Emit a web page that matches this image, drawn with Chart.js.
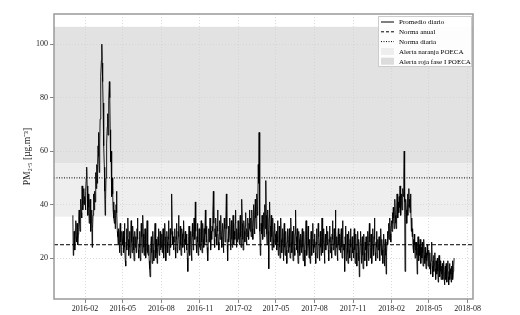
<!DOCTYPE html>
<html>
<head>
<meta charset="utf-8">
<script src="https://cdn.jsdelivr.net/npm/chart.js@4.4.1/dist/chart.umd.min.js"></script>
<style>
  html, body { margin: 0; padding: 0; background: #ffffff; }
</style>
</head>
<body>
<canvas id="pmChart" width="520" height="315"></canvas>
<script>
// Promedio diario PM2.5, un valor por día
const start2016 = '2016-01-03';
const pm2016 = [
  36,21,24,30,27,23,31,34,28,26,33,30,25,29,35,38,33,30,36,42,37,35,47,44,38,41,46,40,43, // ene
  42,38,45,50,54,47,40,36,44,39,33,37,42,35,30,34,38,24,31,36,40,44,38,45,41,48,52,46,55, // feb
  48,55,62,67,58,52,63,72,80,88,94,100,93,86,78,70,62,54,45,36,42,50,56,63,69,74,66,71,79,86,80, // mar
  68,56,60,48,43,50,44,38,41,35,33,38,31,36,40,45,37,30,28,25,31,27,22,29,33,26,21,24,30,27, // abr
  25,30,22,28,33,24,19,17,26,31,23,28,35,27,21,25,30,24,20,29,34,26,22,27,32,28,23,19,26,30,24, // may
  28,22,26,31,35,27,23,20,25,30,24,19,27,33,28,22,26,36,29,24,21,27,31,25,20,23,29,34,26,22, // jun
  21,25,19,16,13,20,24,28,22,18,26,30,23,19,25,29,33,24,20,27,22,18,24,28,31,25,21,26,30,23,27, // jul
  24,29,22,26,31,25,20,27,33,28,23,19,25,30,26,22,28,34,27,21,26,31,24,29,35,44,30,25,28,23,27, // ago
  26,31,24,20,28,33,27,22,25,30,36,28,23,27,32,25,21,26,31,29,24,28,34,27,22,26,30,25,29,23, // sep
  27,20,15,22,28,32,25,21,27,30,24,19,26,33,28,23,29,35,31,27,41,30,25,22,28,33,26,21,27,31,24, // oct
  28,23,30,34,26,22,29,33,27,24,31,25,30,38,29,26,32,24,21,19,27,31,26,29,35,28,23,30,27,32, // nov
  30,36,45,33,27,24,31,28,35,29,25,32,38,30,26,23,29,34,27,31,36,28,24,30,33,27,22,29,35,31,26  // dic
];
const start2017 = '2017-01-01';
const pm2017 = [
  28,33,44,31,25,19,27,32,26,30,35,28,23,29,34,27,24,31,36,29,25,30,27,33,38,28,24,31,26,29,34,
  27,32,25,30,36,28,24,31,42,33,27,23,29,34,30,26,32,37,29,25,31,28,35,30,27,33,38,31,
  30,35,28,33,38,31,27,34,40,32,29,36,42,35,31,38,44,36,40,55,48,67,38,30,21,26,33,29,36,31,27,
  32,37,28,34,40,31,49,36,29,25,33,38,30,16,35,41,32,26,30,36,28,23,31,35,27,24,30,33,26,29,
  25,30,23,28,34,26,21,27,32,24,20,29,35,27,22,26,31,25,19,28,33,24,21,27,30,23,18,26,31,25,22,
  27,31,24,20,28,35,26,22,30,25,19,27,32,24,21,29,38,28,23,26,31,22,18,25,30,27,21,24,29,26,
  22,27,31,24,19,26,30,23,17,25,29,34,26,21,24,28,32,25,20,27,23,18,26,30,24,21,28,33,25,22,27,
  24,29,22,18,26,31,25,20,27,33,28,23,19,25,30,24,21,28,35,27,22,26,31,24,18,25,29,23,27,32,26,
  25,30,23,19,27,32,26,22,28,24,20,29,34,27,23,26,31,25,21,38,30,24,28,22,19,27,31,25,23,29,
  26,22,28,31,24,20,34,27,23,25,25,15,28,32,25,19,24,29,22,18,26,30,23,20,27,31,24,19,25,28,22,
  24,20,27,31,23,18,26,29,22,17,25,30,24,19,27,13,21,26,30,23,18,25,28,21,16,24,29,22,19,26,
  23,28,21,17,25,30,24,19,27,33,26,20,24,29,22,18,26,31,25,21,28,35,27,22,19,26,30,24,20,27,23
];
const start2018 = '2018-01-01';
const pm2018 = [
  24,28,22,19,26,31,25,21,27,23,18,25,29,22,17,24,27,21,14,22,26,30,25,28,33,27,31,35,29,26,32,
  34,30,37,33,39,35,31,38,42,36,33,31,38,44,40,35,41,37,43,39,47,42,36,40,44,38,41,46,
  43,50,60,41,15,35,42,38,33,38,44,36,40,46,39,42,37,44,40,30,35,28,31,24,27,22,29,25,20,26,23,
  26,21,14,24,28,22,19,25,21,27,23,18,24,20,26,22,17,23,27,21,18,24,20,16,22,19,25,21,17,23,
  20,16,22,18,14,19,23,26,17,13,19,21,15,18,22,16,12,19,17,14,20,15,11,18,21,16,13,19,15,12,17,
  14,18,12,16,19,13,10,15,17,12,18,14,11,16,19,13,10,15,18,12,16,14,11,17,13,19,12,15,17,20
];

// Normas y alertas (µg/m3)
const normaAnual = 25;
const normaDiaria = 50;
const alertaNaranja = [35.5, 55.5];
const alertaRoja = [55.5, 106.5];

// Ejes
const xTickLabels = ['2016-02', '2016-05', '2016-08', '2016-11', '2017-02', '2017-05',
                     '2017-08', '2017-11', '2018-02', '2018-05', '2018-08'];
const yTicks = [20, 40, 60, 80, 100];
const legendLabels = ['Promedio diario', 'Norma anual', 'Norma diaria',
                      'Alerta naranja POECA', 'Alerta roja fase I POECA'];

const DAY = 86400000;
const utc = s => Date.parse(s + (s.length === 7 ? '-01' : '') + 'T00:00:00Z');
const toPoints = (start, values) => values.map((v, i) => ({ x: utc(start) + i * DAY, y: v }));

const serie = [].concat(toPoints(start2016, pm2016), toPoints(start2017, pm2017), toPoints(start2018, pm2018));
const xMin = utc('2015-11-19');
const xMax = utc('2018-08-14');

const FONT = 'Liberation Serif';

// bandas de alerta detrás de todo
const bandas = {
  id: 'bandas',
  beforeDraw(chart) {
    const { ctx, chartArea: a, scales: { y } } = chart;
    ctx.save();
    ctx.fillStyle = '#eeeeee';
    let t = y.getPixelForValue(alertaNaranja[1]), b = y.getPixelForValue(alertaNaranja[0]);
    ctx.fillRect(a.left, t, a.width, b - t);
    ctx.fillStyle = '#e2e2e2';
    t = y.getPixelForValue(alertaRoja[1]); b = y.getPixelForValue(alertaRoja[0]);
    ctx.fillRect(a.left, t, a.width, b - t);
    ctx.restore();
  }
};

// marco y leyenda dentro del área
const marcoLeyenda = {
  id: 'marcoLeyenda',
  afterDraw(chart) {
    const { ctx, chartArea: a } = chart;
    ctx.save();
    ctx.strokeStyle = '#999999';
    ctx.lineWidth = 1.5;
    ctx.strokeRect(a.left, a.top, a.width, a.height);

    const w = 94, h = 51, rowH = 9.8;
    const lx = a.right - w - 1, ly = a.top + 2;
    ctx.fillStyle = 'rgba(255,255,255,0.92)';
    ctx.fillRect(lx, ly, w, h);
    ctx.strokeStyle = '#cccccc';
    ctx.lineWidth = 1;
    ctx.strokeRect(lx + 0.5, ly + 0.5, w - 1, h - 1);

    ctx.font = '7px "' + FONT + '"';
    ctx.textBaseline = 'middle';
    legendLabels.forEach((txt, i) => {
      const yc = ly + 6 + i * rowH;
      ctx.strokeStyle = '#000000';
      ctx.lineWidth = 1;
      if (i < 3) {
        ctx.setLineDash(i === 0 ? [] : i === 1 ? [3, 2] : [1, 1.5]);
        ctx.beginPath();
        ctx.moveTo(lx + 3, yc);
        ctx.lineTo(lx + 16, yc);
        ctx.stroke();
        ctx.setLineDash([]);
      } else {
        ctx.fillStyle = i === 3 ? '#eeeeee' : '#dcdcdc';
        ctx.fillRect(lx + 3, yc - 3.5, 13, 7);
      }
      ctx.fillStyle = '#000000';
      ctx.fillText(txt, lx + 21, yc + 0.5);
    });
    ctx.restore();
  }
};

new Chart(document.getElementById('pmChart').getContext('2d'), {
  type: 'line',
  data: {
    datasets: [
      {
        label: legendLabels[0],
        data: serie,
        borderColor: '#000000',
        borderWidth: 0.9,
        pointRadius: 0,
        tension: 0
      },
      {
        label: legendLabels[1],
        data: [{ x: xMin, y: normaAnual }, { x: xMax, y: normaAnual }],
        borderColor: '#000000',
        borderWidth: 1,
        borderDash: [4, 2],
        pointRadius: 0
      },
      {
        label: legendLabels[2],
        data: [{ x: xMin, y: normaDiaria }, { x: xMax, y: normaDiaria }],
        borderColor: '#000000',
        borderWidth: 1,
        borderDash: [1, 1.5],
        pointRadius: 0
      }
    ]
  },
  options: {
    responsive: false,
    animation: false,
    layout: { padding: { left: 18, right: 47, top: 14, bottom: 0 } },
    plugins: {
      legend: { display: false },
      tooltip: { enabled: false }
    },
    scales: {
      x: {
        type: 'linear',
        min: xMin,
        max: xMax,
        afterBuildTicks: s => { s.ticks = xTickLabels.map(l => ({ value: utc(l) })); },
        afterFit: s => { s.height = 16; },
        ticks: {
          autoSkip: false,
          maxRotation: 0,
          padding: 1,
          color: '#222222',
          font: { family: FONT, size: 8 },
          callback: (v, i) => xTickLabels[i]
        },
        grid: { color: '#d2d2d2', lineWidth: 0.8, tickLength: 4, tickColor: '#666666' },
        border: { display: false, dash: [1, 2] }
      },
      y: {
        type: 'linear',
        min: 4.7,
        max: 111.3,
        afterBuildTicks: s => { s.ticks = yTicks.map(v => ({ value: v })); },
        afterFit: s => { s.width = 36; },
        ticks: {
          padding: 2,
          color: '#222222',
          font: { family: FONT, size: 8 }
        },
        grid: { color: '#d2d2d2', lineWidth: 0.8, tickLength: 4, tickColor: '#666666' },
        border: { display: false, dash: [1, 2] },
        title: {
          display: true,
          text: 'PM₂.₅ [µg.m⁻³]',
          color: '#222222',
          font: { family: FONT, size: 9.5 },
          padding: { top: 4, bottom: 0 }
        }
      }
    }
  },
  plugins: [bandas, marcoLeyenda]
});
</script>
</body>
</html>
